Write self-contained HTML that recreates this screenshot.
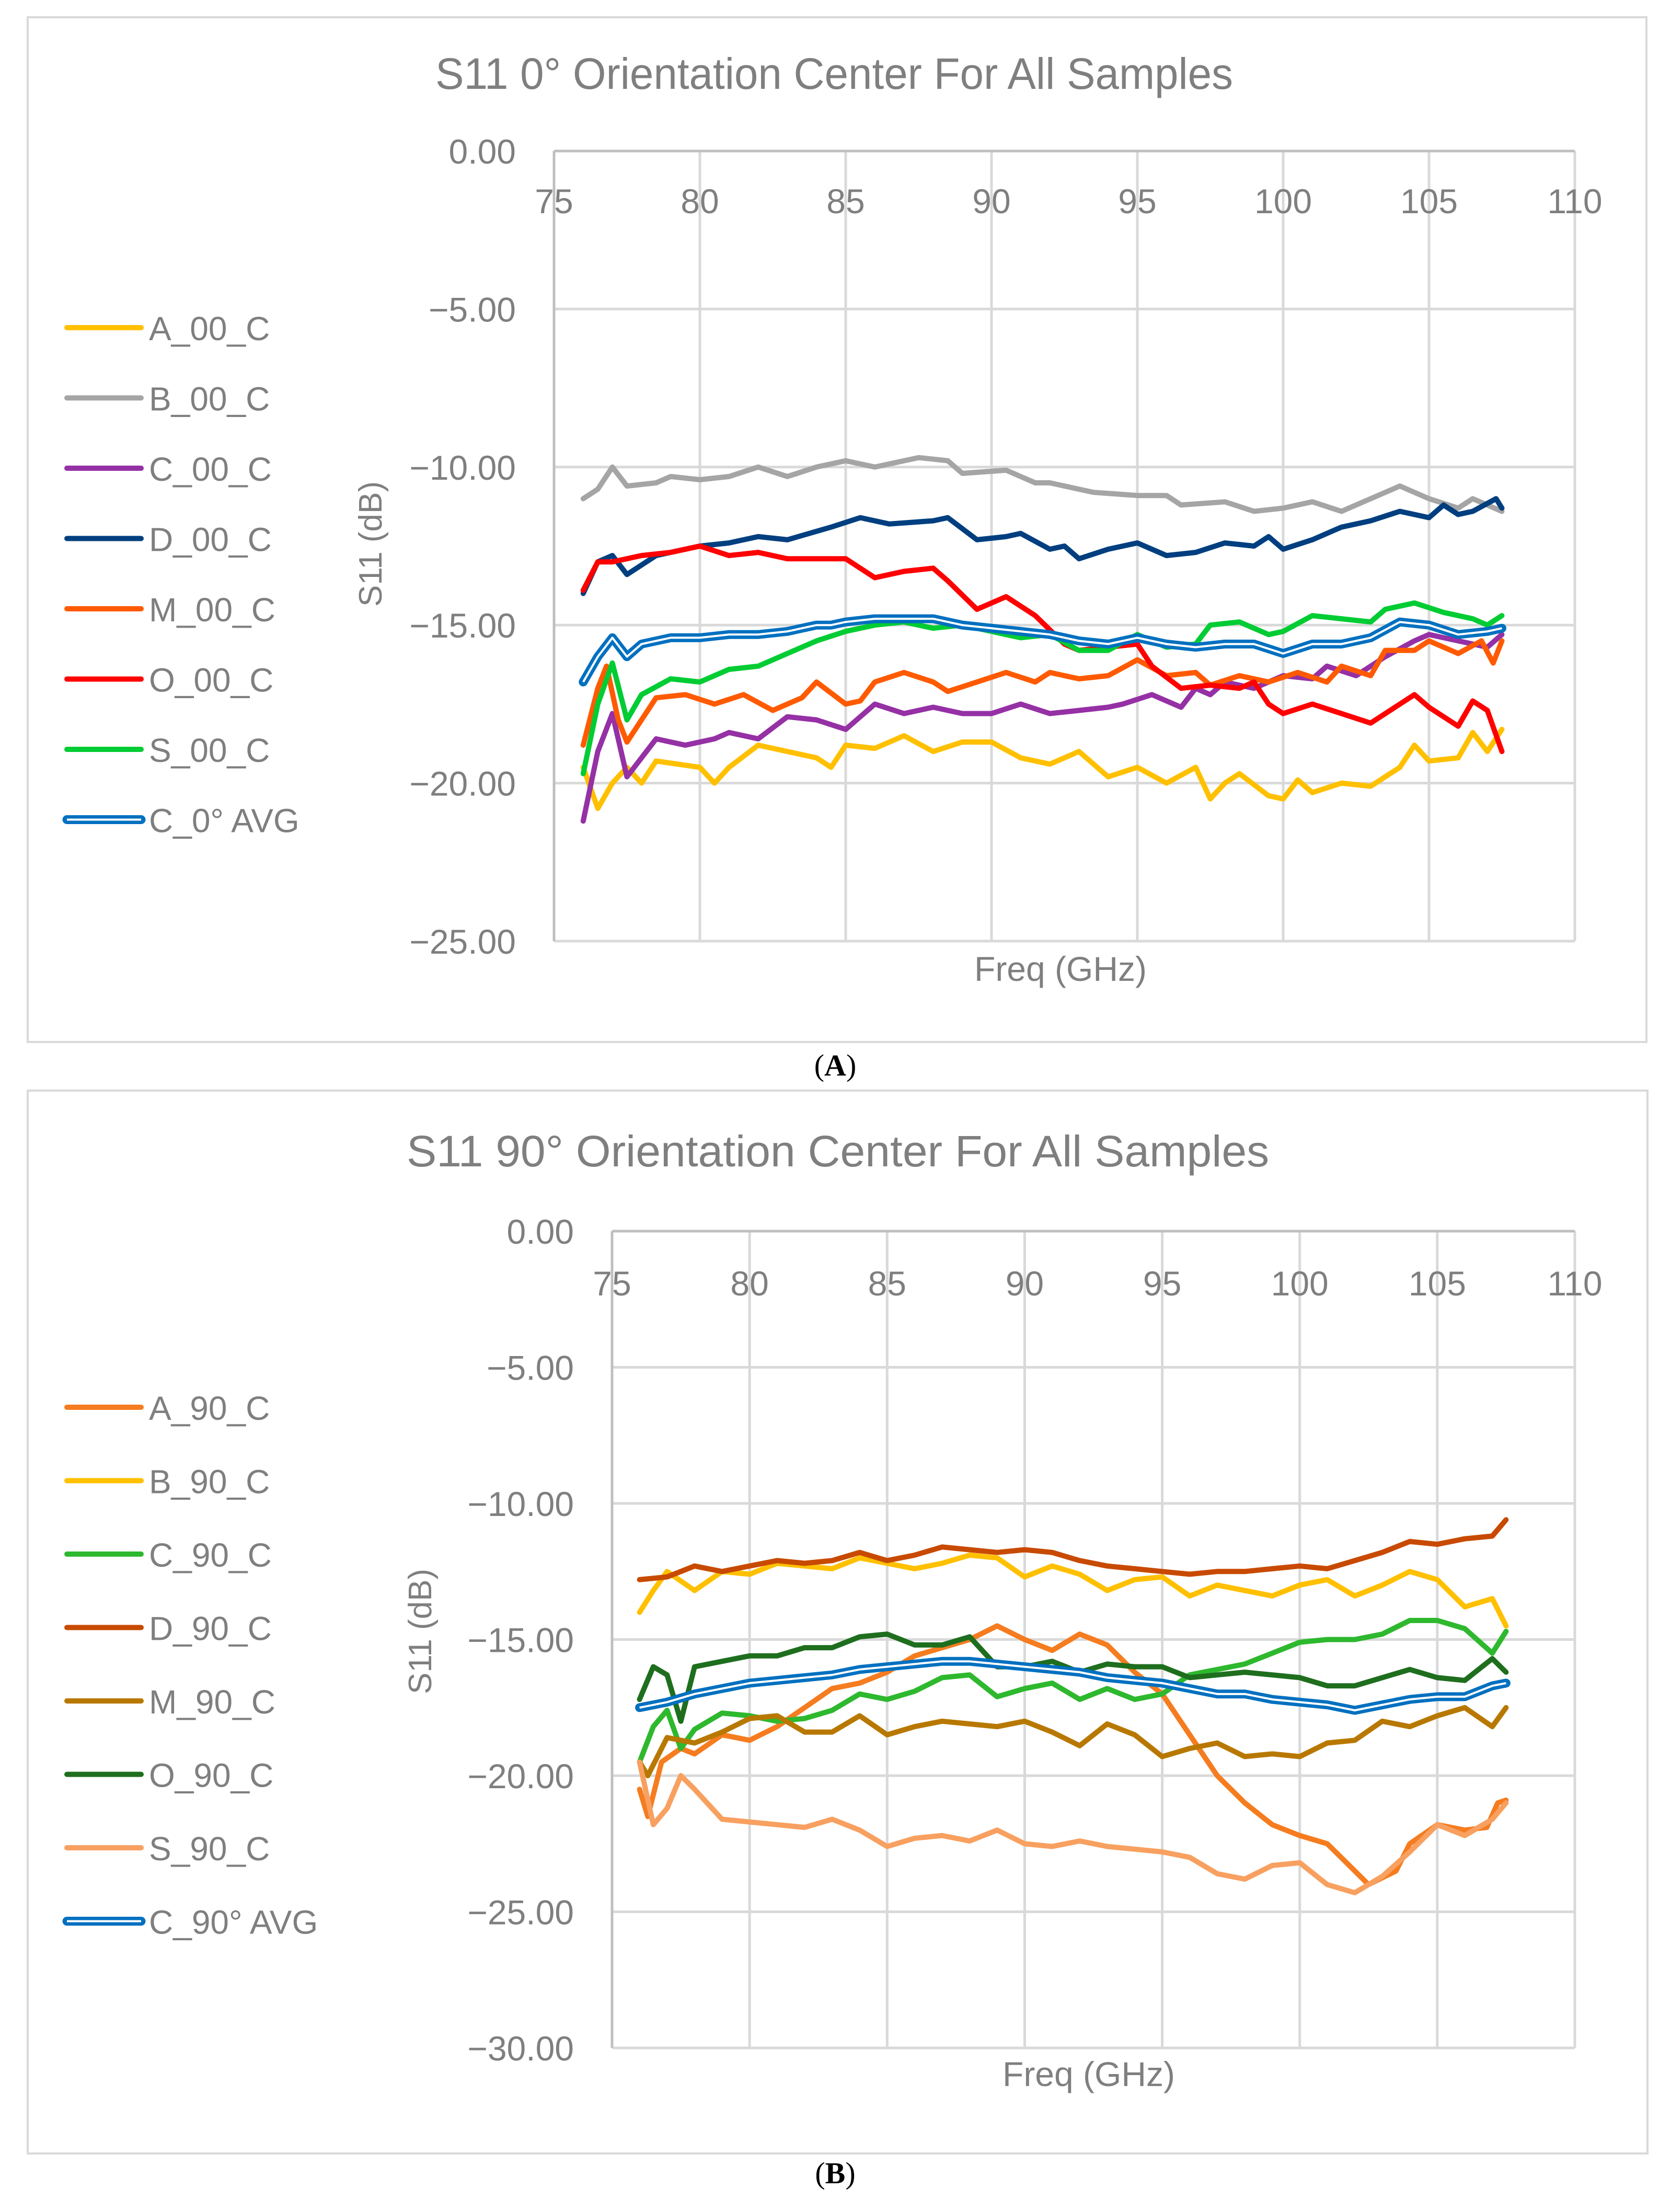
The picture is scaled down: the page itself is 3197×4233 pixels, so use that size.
<!DOCTYPE html>
<html><head><meta charset="utf-8"><title>S11 charts</title>
<style>
html,body{margin:0;padding:0;background:#fff;}
svg{display:block;}
text{font-family:"Liberation Sans",sans-serif;fill:#7f7f7f;}
</style></head>
<body>
<svg id="root" width="3197" height="4233" viewBox="0 0 3197 4233" xmlns="http://www.w3.org/2000/svg">
<rect x="0" y="0" width="3197" height="4233" fill="#fff"/>
<rect x="53" y="33" width="3097" height="1961" fill="#fff" stroke="#d9d9d9" stroke-width="4"/>
<rect x="53" y="2087" width="3099" height="2034" fill="#fff" stroke="#d9d9d9" stroke-width="4"/>
<text x="1596" y="170" font-size="84" text-anchor="middle" textLength="1526" lengthAdjust="spacingAndGlyphs">S11 0° Orientation Center For All Samples</text>
<text x="1603" y="2232" font-size="84" text-anchor="middle" textLength="1650" lengthAdjust="spacingAndGlyphs">S11 90° Orientation Center For All Samples</text>
<text x="1598" y="2058" font-size="58" text-anchor="middle" style="font-family:'Liberation Serif',serif;fill:#000">(<tspan font-weight="bold">A</tspan>)</text>
<text x="1598" y="4178" font-size="58" text-anchor="middle" style="font-family:'Liberation Serif',serif;fill:#000">(<tspan font-weight="bold">B</tspan>)</text>
<g id="chartA"></g>
<g id="chartB"></g>
</svg>
<script>
// ---- Chart A data ----
const namesA = ["A_00_C","B_00_C","C_00_C","D_00_C","M_00_C","O_00_C","S_00_C","C_0° AVG"];
const colorsA = ["#ffc000","#a5a5a5","#9530a5","#003f7f","#ff5a00","#ff0000","#00cc33","#0070c0"];
const fA_A = [76,76.5,77,77.5,78,78.5,80,80.5,81,82,83,84,84.5,85,86,87,88,89,90,91,92,93,94,95,96,97,97.5,98,98.5,99.5,100,100.5,101,102,103,104,104.5,105,106,106.5,107,107.5];
const vA_A = [-19.5,-20.8,-20,-19.5,-20,-19.3,-19.5,-20,-19.5,-18.8,-19,-19.2,-19.5,-18.8,-18.9,-18.5,-19,-18.7,-18.7,-19.2,-19.4,-19,-19.8,-19.5,-20,-19.5,-20.5,-20,-19.7,-20.4,-20.5,-19.9,-20.3,-20,-20.1,-19.5,-18.8,-19.3,-19.2,-18.4,-19,-18.3];
const fA_B = [76,76.5,77,77.5,78.5,79,80,81,82,83,84,85,86,87.5,88.5,89,90.5,91.5,92,93.5,95,96,96.5,98,99,100,101,102,103,104,105,106,106.5,107.5];
const vA_B = [-11,-10.7,-10,-10.6,-10.5,-10.3,-10.4,-10.3,-10,-10.3,-10,-9.8,-10,-9.7,-9.8,-10.2,-10.1,-10.5,-10.5,-10.8,-10.9,-10.9,-11.2,-11.1,-11.4,-11.3,-11.1,-11.4,-11,-10.6,-11,-11.3,-11,-11.4];
const fA_C = [76,76.5,77,77.5,78.5,79.5,80.5,81,82,83,84,85,86,87,88,89,90,91,92,93,94,94.5,95.5,96.5,97,97.5,98,99,100,101,101.5,102.5,103.5,104.5,105,106,107,107.5];
const vA_C = [-21.2,-19,-17.8,-19.8,-18.6,-18.8,-18.6,-18.4,-18.6,-17.9,-18,-18.3,-17.5,-17.8,-17.6,-17.8,-17.8,-17.5,-17.8,-17.7,-17.6,-17.5,-17.2,-17.6,-17,-17.2,-16.8,-17,-16.6,-16.7,-16.3,-16.6,-16,-15.5,-15.3,-15.5,-15.7,-15.3];
const fA_D = [76,76.5,77,77.5,78.5,79.5,80,81,82,83,84.5,85.5,86.5,88,88.5,89.5,90.5,91,92,92.5,93,94,95,96,97,98,99,99.5,100,101,102,103,104,105,105.5,106,106.5,107.3,107.5];
const vA_D = [-14,-13,-12.8,-13.4,-12.8,-12.6,-12.5,-12.4,-12.2,-12.3,-11.9,-11.6,-11.8,-11.7,-11.6,-12.3,-12.2,-12.1,-12.6,-12.5,-12.9,-12.6,-12.4,-12.8,-12.7,-12.4,-12.5,-12.2,-12.6,-12.3,-11.9,-11.7,-11.4,-11.6,-11.2,-11.5,-11.4,-11.0,-11.3];
const fA_M = [76,76.5,76.8,77.2,77.5,78.5,79.5,80.5,81.5,82.5,83.5,84,85,85.5,86,87,88,88.5,89.5,90.5,91.5,92,93,94,95,96,97,97.5,98.5,99.5,100.5,101.5,102,103,103.5,104.5,105,106,106.8,107.2,107.5];
const vA_M = [-18.8,-17,-16.3,-18,-18.7,-17.3,-17.2,-17.5,-17.2,-17.7,-17.3,-16.8,-17.5,-17.4,-16.8,-16.5,-16.8,-17.1,-16.8,-16.5,-16.8,-16.5,-16.7,-16.6,-16.1,-16.6,-16.5,-16.9,-16.6,-16.8,-16.5,-16.8,-16.3,-16.6,-15.8,-15.8,-15.5,-15.9,-15.5,-16.2,-15.5];
const fA_O = [76,76.5,77,78,79,80,81,82,83,84,85,86,87,88,88.5,89.5,90,90.5,91.5,92.5,93,94,95,95.5,96.5,97.5,98.5,99,99.5,100,101,102,103,104,104.5,105,106,106.5,107,107.5];
const vA_O = [-13.9,-13,-13,-12.8,-12.7,-12.5,-12.8,-12.7,-12.9,-12.9,-12.9,-13.5,-13.3,-13.2,-13.6,-14.5,-14.3,-14.1,-14.7,-15.6,-15.8,-15.7,-15.6,-16.3,-17,-16.9,-17,-16.8,-17.5,-17.8,-17.5,-17.8,-18.1,-17.5,-17.2,-17.6,-18.2,-17.4,-17.7,-19];
const fA_S = [76,76.5,77,77.5,78,79,80,81,82,83,84,85,86,87,88,89,90,91,92,93,94,95,96,97,97.5,98.5,99.5,100,101,102,103,103.5,104.5,105.5,106.5,107,107.5];
const vA_S = [-19.7,-17.5,-16.2,-18,-17.2,-16.7,-16.8,-16.4,-16.3,-15.9,-15.5,-15.2,-15,-14.9,-15.1,-15,-15.2,-15.4,-15.3,-15.8,-15.8,-15.3,-15.7,-15.6,-15,-14.9,-15.3,-15.2,-14.7,-14.8,-14.9,-14.5,-14.3,-14.6,-14.8,-15,-14.7];
const fA_AVG = [76,76.5,77,77.5,78,79,80,81,82,83,84,84.5,85,86,87,88,89,90,91,92,93,94,95,96,97,98,99,100,101,102,103,104,105,106,107,107.5];
const vA_AVG = [-16.8,-16,-15.4,-16,-15.6,-15.4,-15.4,-15.3,-15.3,-15.2,-15,-15,-14.9,-14.8,-14.8,-14.8,-15,-15.1,-15.2,-15.3,-15.5,-15.6,-15.4,-15.6,-15.7,-15.6,-15.6,-15.9,-15.6,-15.6,-15.4,-14.9,-15,-15.3,-15.2,-15.1];
const yTicksA = [0,-5,-10,-15,-20,-25];
const xTicks = [75,80,85,90,95,100,105,110];

// ---- Chart B data ----
const namesB = ["A_90_C","B_90_C","C_90_C","D_90_C","M_90_C","O_90_C","S_90_C","C_90° AVG"];
const colorsB = ["#f57c1f","#ffc000","#2eb82e","#c84a00","#b87800","#1e6e1e","#f8a060","#0070c0"];
const fB_A = [76,76.3,76.8,77.5,78,79,80,81,82,83,84,85,86,87,88,89,90,91,92,93,94,95,96,97,98,99,100,101,101.5,102,102.5,103.5,104,105,106,106.8,107.2,107.5];
const vB_A = [-20.5,-21.5,-19.5,-19,-19.2,-18.5,-18.7,-18.2,-17.5,-16.8,-16.6,-16.2,-15.6,-15.3,-15,-14.5,-15,-15.4,-14.8,-15.2,-16.2,-17,-18.5,-20,-21,-21.8,-22.2,-22.5,-23,-23.5,-24,-23.5,-22.5,-21.8,-22,-21.9,-21,-20.9];
const fB_B = [76,76.5,77,78,79,80,81,82,83,84,85,86,87,88,89,90,91,92,93,94,95,96,97,98,99,100,101,102,103,104,105,106,107,107.5];
const vB_B = [-14,-13.2,-12.5,-13.2,-12.5,-12.6,-12.2,-12.3,-12.4,-12,-12.2,-12.4,-12.2,-11.9,-12,-12.7,-12.3,-12.6,-13.2,-12.8,-12.7,-13.4,-13,-13.2,-13.4,-13,-12.8,-13.4,-13,-12.5,-12.8,-13.8,-13.5,-14.5];
const fB_C = [76,76.5,77,77.5,78,79,80,81,82,83,84,85,86,87,88,89,90,91,92,93,94,95,96,97,98,99,100,101,102,103,104,105,106,107,107.5];
const vB_C = [-19.5,-18.2,-17.6,-19,-18.3,-17.7,-17.8,-18,-17.9,-17.6,-17,-17.2,-16.9,-16.4,-16.3,-17.1,-16.8,-16.6,-17.2,-16.8,-17.2,-17,-16.3,-16.1,-15.9,-15.5,-15.1,-15,-15,-14.8,-14.3,-14.3,-14.6,-15.5,-14.7];
const fB_D = [76,77,78,79,80,81,82,83,84,85,86,87,88,89,90,91,92,93,94,95,96,97,98,99,100,101,102,103,104,105,106,107,107.5];
const vB_D = [-12.8,-12.7,-12.3,-12.5,-12.3,-12.1,-12.2,-12.1,-11.8,-12.1,-11.9,-11.6,-11.7,-11.8,-11.7,-11.8,-12.1,-12.3,-12.4,-12.5,-12.6,-12.5,-12.5,-12.4,-12.3,-12.4,-12.1,-11.8,-11.4,-11.5,-11.3,-11.2,-10.6];
const fB_M = [76,76.3,77,78,79,80,81,82,83,84,85,86,87,88,89,90,91,92,93,94,95,96,97,98,99,100,101,102,103,104,105,106,107,107.5];
const vB_M = [-19.5,-20,-18.6,-18.8,-18.4,-17.9,-17.8,-18.4,-18.4,-17.8,-18.5,-18.2,-18,-18.1,-18.2,-18,-18.4,-18.9,-18.1,-18.5,-19.3,-19,-18.8,-19.3,-19.2,-19.3,-18.8,-18.7,-18,-18.2,-17.8,-17.5,-18.2,-17.5];
const fB_O = [76,76.5,77,77.5,78,79,80,81,82,83,84,85,86,87,88,89,90,91,92,93,94,95,96,97,98,99,100,101,102,103,104,105,106,107,107.5];
const vB_O = [-17.2,-16,-16.3,-18,-16,-15.8,-15.6,-15.6,-15.3,-15.3,-14.9,-14.8,-15.2,-15.2,-14.9,-16,-16,-15.8,-16.2,-15.9,-16,-16,-16.4,-16.3,-16.2,-16.3,-16.4,-16.7,-16.7,-16.4,-16.1,-16.4,-16.5,-15.7,-16.2];
const fB_S = [76,76.5,77,77.5,78,79,80,81,82,83,84,85,86,87,88,89,90,91,92,93,94,95,96,97,98,99,100,101,102,103,104,105,106,107,107.5];
const vB_S = [-19.5,-21.8,-21.2,-20,-20.5,-21.6,-21.7,-21.8,-21.9,-21.6,-22,-22.6,-22.3,-22.2,-22.4,-22,-22.5,-22.6,-22.4,-22.6,-22.7,-22.8,-23,-23.6,-23.8,-23.3,-23.2,-24,-24.3,-23.7,-22.8,-21.8,-22.2,-21.6,-21];
const fB_AVG = [76,77,78,79,80,81,82,83,84,85,86,87,88,89,90,91,92,93,94,95,96,97,98,99,100,101,102,103,104,105,106,107,107.5];
const vB_AVG = [-17.5,-17.3,-17,-16.8,-16.6,-16.5,-16.4,-16.3,-16.1,-16,-15.9,-15.8,-15.8,-15.9,-16,-16.1,-16.2,-16.4,-16.5,-16.6,-16.8,-17,-17,-17.2,-17.3,-17.4,-17.6,-17.4,-17.2,-17.1,-17.1,-16.7,-16.6];
const yTicksB = [0,-5,-10,-15,-20,-25,-30];

const NS = "http://www.w3.org/2000/svg";
function mk(tag, attrs, parent){
  const e = document.createElementNS(NS, tag);
  for (const k in attrs) e.setAttribute(k, attrs[k]);
  parent.appendChild(e);
  return e;
}
function drawChart(g, cfg){
  const sx = f => cfg.x0 + (f - 75) / 35 * (cfg.x1 - cfg.x0);
  const sy = v => cfg.y0 + (0 - v) / (0 - cfg.ymin) * (cfg.y1 - cfg.y0);
  cfg.yTicks.forEach(t => {
    const l = mk("line", {x1: cfg.x0, x2: cfg.x1, y1: sy(t), y2: sy(t), stroke: "#d9d9d9", "stroke-width": 5}, g);
    
    
    const tx = mk("text", {x: cfg.x0 - 73, y: sy(t) + 24, "font-size": 66, "text-anchor": "end"}, g);
    tx.textContent = (t === 0 ? "0.00" : "\u2212" + Math.abs(t).toFixed(2));
    
    
  });
  xTicks.forEach(t => {
    if (t > 75) {
      const l = mk("line", {x1: sx(t), x2: sx(t), y1: cfg.y0, y2: cfg.y1, stroke: "#d9d9d9", "stroke-width": 5}, g);
      
      
    }
    const tx = mk("text", {x: sx(t), y: cfg.y0 + cfg.xlab, "font-size": 66, "text-anchor": "middle"}, g);
    tx.textContent = String(t);
    
    
  });
  const ax = mk("line", {x1: cfg.x0, x2: cfg.x0, y1: cfg.y0, y2: cfg.y1, stroke: "#bfbfbf", "stroke-width": 5}, g);
  
  
  const ax2 = mk("line", {x1: cfg.x0, x2: cfg.x1, y1: cfg.y0, y2: cfg.y0, stroke: "#bfbfbf", "stroke-width": 5}, g);
  
  
  const yt = mk("text", {x: 0, y: 0, "font-size": 62, "text-anchor": "middle", transform: `translate(${cfg.ytx},${cfg.yty}) rotate(-90)`}, g);
  yt.textContent = "S11 (dB)";
  
  
  const xt = mk("text", {x: cfg.xtx, y: cfg.xty, "font-size": 66, "text-anchor": "middle"}, g);
  xt.textContent = "Freq (GHz)";
  
  
  cfg.series.forEach((s, i) => {
    const d = s.f.map((f, j) => (j ? "L" : "M") + sx(f).toFixed(1) + " " + sy(s.v[j]).toFixed(1)).join(" ");
    const isAvg = i === cfg.series.length - 1;
    const p = mk("path", {d: d, fill: "none", stroke: cfg.colors[i], "stroke-width": isAvg ? 17 : 10, "stroke-linejoin": "round", "stroke-linecap": "round"}, g);
    
    
    if (isAvg) {
      const p2 = mk("path", {d: d, fill: "none", stroke: "#ffffff", "stroke-width": 4, "stroke-linejoin": "round"}, g);
      
      
    }
    const ly = cfg.legY + i * cfg.legStep;
    const lg = mk("g", {}, g);
    
    
    mk("line", {x1: 128, x2: 270, y1: ly, y2: ly, stroke: cfg.colors[i], "stroke-width": isAvg ? 17 : 10, "stroke-linecap": "round"}, lg);
    if (isAvg) mk("line", {x1: 128, x2: 270, y1: ly, y2: ly, stroke: "#fff", "stroke-width": 4}, lg);
    const lt = mk("text", {x: 285, y: ly + 24, "font-size": 64}, lg);
    lt.textContent = cfg.names[i];
  });
}
drawChart(document.getElementById("chartA"), {
  x0: 1060, x1: 3013, y0: 289, y1: 1801, ymin: -25, yTicks: yTicksA, xlab: 119,
  ytx: 730, yty: 1041, xtx: 2029, xty: 1877, legY: 627, legStep: 134.5,
  names: namesA, colors: colorsA,
  series: [{f: fA_A, v: vA_A}, {f: fA_B, v: vA_B}, {f: fA_C, v: vA_C}, {f: fA_D, v: vA_D}, {f: fA_M, v: vA_M}, {f: fA_O, v: vA_O}, {f: fA_S, v: vA_S}, {f: fA_AVG, v: vA_AVG}]
});
drawChart(document.getElementById("chartB"), {
  x0: 1171, x1: 3013, y0: 2356, y1: 3919, ymin: -30, yTicks: yTicksB, xlab: 123,
  ytx: 825, yty: 3122, xtx: 2083, xty: 3992, legY: 2693, legStep: 140.5,
  names: namesB, colors: colorsB,
  series: [{f: fB_A, v: vB_A}, {f: fB_B, v: vB_B}, {f: fB_C, v: vB_C}, {f: fB_D, v: vB_D}, {f: fB_M, v: vB_M}, {f: fB_O, v: vB_O}, {f: fB_S, v: vB_S}, {f: fB_AVG, v: vB_AVG}]
});
</script>
</body></html>
